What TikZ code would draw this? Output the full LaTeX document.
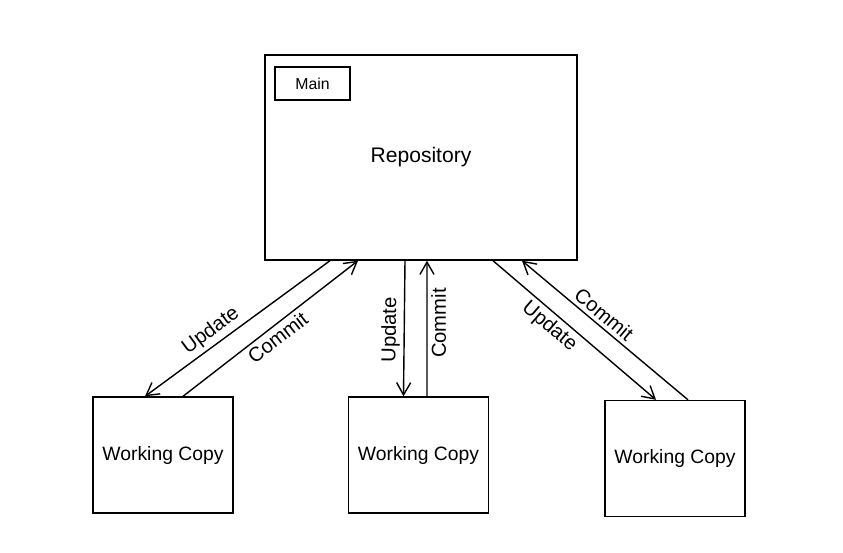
\documentclass[tikz,border=0pt]{standalone}
\usepackage{fontspec}
\setmainfont{Liberation Sans}
\usepackage{tikz}
\usetikzlibrary{arrows.meta}

\begin{document}
\begin{tikzpicture}[x=0.02cm,y=-0.02cm,>={Straight Barb[length=7pt,width=8pt]},
                    line width=0.8pt,auto,
                    repo node/.style={rectangle,draw,minimum width=6.24cm,minimum height=4.1cm,font=\large},
                    copy node/.style={rectangle,draw,minimum width=2.8cm,minimum height=2.32cm,font=\fontsize{11}{13}\selectfont},
                    tag node/.style={rectangle,draw,minimum width=1.5cm,minimum height=0.66cm,font=\small}]

      \useasboundingbox (0,0) rectangle (843,552);

      \node[repo node] (repo) at (421,157.5) {Repository};
      \node[tag node] (main) at (312.5,83.5) {Main};
      \node[copy node] (wc1) at (163,455) {Working Copy};
      \node[copy node] (wc2) at (418.5,455) {Working Copy};
      \node[copy node] (wc3) at (675,458.5) {Working Copy};

      \path[every node/.style={font=\fontsize{11.5}{13}\selectfont,sloped,inner sep=2pt}]
        ([xshift=-1.82cm]repo.south) edge[->] node[pos=0.6,above] {Update} ([xshift=-0.36cm]wc1.north)
        ([xshift=0.4cm]wc1.north) edge[->] node[pos=0.5,below] {Commit} ([xshift=-1.26cm]repo.south)
        ([xshift=-0.32cm]repo.south) edge[->] node[pos=0.51,above] {Update} ([xshift=-0.3cm]wc2.north)
        ([xshift=0.17cm]wc2.north) edge[->] node[pos=0.54,below] {Commit} ([xshift=0.12cm]repo.south)
        ([xshift=1.44cm]repo.south) edge[->] node[pos=0.4,below] {Update} ([xshift=-0.38cm]wc3.north)
        ([xshift=0.26cm]wc3.north) edge[->] node[pos=0.55,above] {Commit} ([xshift=2.02cm]repo.south);

\end{tikzpicture}
\end{document}
